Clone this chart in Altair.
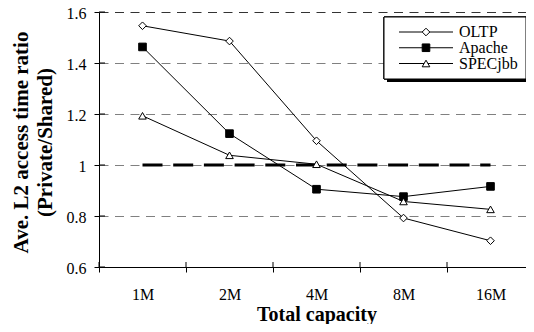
import altair as alt
import pandas as pd

capacities = ["1M", "2M", "4M", "8M", "16M"]
series = ["OLTP", "Apache", "SPECjbb"]
oltp = [1.546, 1.486, 1.095, 0.792, 0.703]
apache = [1.463, 1.123, 0.905, 0.876, 0.916]
specjbb = [1.193, 1.038, 1.003, 0.857, 0.826]
y_ticks = [0.6, 0.8, 1.0, 1.2, 1.4, 1.6]
ref_value = 1.0

shapes = ["diamond", "square", "triangle-up"]
fills = ["white", "black", "white"]

rows = []
for name, vals in zip(series, [oltp, apache, specjbb]):
    for i, (c, v) in enumerate(zip(capacities, vals)):
        rows.append({"capacity": c, "series": name, "ratio": v, "idx": i})
df = pd.DataFrame(rows)
ref_df = pd.DataFrame({"capacity": [capacities[0], capacities[-1]],
                       "ratio": [ref_value, ref_value], "idx": [0, 1]})
legend_df = pd.DataFrame({"series": series})
ytick_df = pd.DataFrame({"ratio": y_ticks})
xtick_df = pd.DataFrame({"capacity": capacities})

FONT = "'Liberation Serif', 'Times New Roman', Times, serif"

x_scale = alt.Scale(domain=capacities, paddingInner=0, paddingOuter=0)
y_scale = alt.Scale(domain=[0.6, 1.6], nice=False, zero=False)

x_enc = alt.X(
    "capacity:N",
    scale=x_scale,
    axis=alt.Axis(
        title="Total capacity", labelAngle=0, tickBand="extent", tickSize=5,
        tickColor="black", domainColor="black", labelColor="black",
        labelFont=FONT, labelFontSize=16, labelPadding=14,
        titleFont=FONT, titleFontSize=20, titleFontWeight="bold",
        titleColor="black", titleY=53, titleBaseline="alphabetic", grid=False,
    ),
)
y_enc = alt.Y(
    "ratio:Q",
    scale=y_scale,
    axis=alt.Axis(
        title=["Ave. L2 access time ratio", "(Private/Shared)"],
        values=y_ticks,
        labelExpr="datum.value == 1 ? '1' : format(datum.value, '.1f')",
        tickSize=5, tickColor="black", domainColor="black",
        labelColor="black", labelFont=FONT, labelFontSize=16, labelPadding=8,
        labelOffset=1,
        titleFont=FONT, titleFontSize=21, titleFontWeight="bold",
        titleColor="black", titleAngle=270, titleX=-68, titleY=130,
        titleBaseline="bottom", titleAlign="center", titleLineHeight=24,
        grid=True, gridDash=[9, 6.5], gridWidth=1,
        gridColor={"condition": {"test": "datum.value > 1.55", "value": "#333333"},
                   "value": "#808080"},
    ),
)

shape_scale = alt.Scale(domain=series, range=shapes)
fill_scale = alt.Scale(domain=series, range=fills)

# inward halves of the axis ticks
ytick_in = alt.Chart(ytick_df).mark_rule(color="black", strokeWidth=1).encode(
    y=alt.Y("ratio:Q", scale=y_scale), x=alt.value(0), x2=alt.value(6))
xtick_in = alt.Chart(xtick_df).mark_rule(color="black", strokeWidth=1).encode(
    x=alt.X("capacity:N", scale=x_scale, bandPosition=0),
    y=alt.value(250), y2=alt.value(255))

lines = alt.Chart(df).mark_line(color="black", strokeWidth=1).encode(
    x=x_enc, y=y_enc, detail="series:N", order="idx:Q")

ref = alt.Chart(ref_df).mark_line(color="black", strokeWidth=3,
                                  strokeDash=[20, 10.7]).encode(
    x=x_enc, y=y_enc, order="idx:Q")

pts = alt.Chart(df).mark_point(filled=False, stroke="black", strokeWidth=1,
                               size=58, opacity=1).encode(
    x=x_enc, y=y_enc,
    shape=alt.Shape("series:N", scale=shape_scale, legend=None),
    fill=alt.Fill("series:N", scale=fill_scale, legend=None),
)

main = alt.layer(lines, ref, pts, ytick_in, xtick_in)

# legend
ly = alt.Y("series:N", scale=alt.Scale(type="point", domain=series, range=[20, 51.5], padding=0),
           axis=None)
shadow = alt.Chart(legend_df).mark_rect(fill="black").encode(
    x=alt.value(288), x2=alt.value(430), y=alt.value(8), y2=alt.value(70))
box = alt.Chart(legend_df).mark_rect(fill="white", stroke="black", strokeWidth=1).encode(
    x=alt.value(285), x2=alt.value(427), y=alt.value(5), y2=alt.value(67))
lrule = alt.Chart(legend_df).mark_rule(color="black", strokeWidth=1).encode(
    x=alt.value(300), x2=alt.value(354), y=ly)
lpts = alt.Chart(legend_df).mark_point(filled=False, stroke="black", strokeWidth=1,
                                       size=58, opacity=1).encode(
    x=alt.value(327), y=ly,
    shape=alt.Shape("series:N", scale=shape_scale, legend=None),
    fill=alt.Fill("series:N", scale=fill_scale, legend=None),
)
ltext = alt.Chart(legend_df).mark_text(align="left", baseline="middle", font=FONT,
                                       fontSize=16, color="black").encode(
    x=alt.value(360), y=ly, text="series:N")
legend = alt.layer(shadow, box, lrule, lpts, ltext)

chart = alt.layer(main, legend).resolve_scale(y="independent").properties(
    width=435, height=255,
    autosize=alt.AutoSizeParams(type="none"),
    padding={"left": 91, "top": 4, "right": -8, "bottom": 57},
    background="white",
).configure_view(stroke=None)

chart.save("out.html", embed_options={"renderer": "svg", "actions": False})
